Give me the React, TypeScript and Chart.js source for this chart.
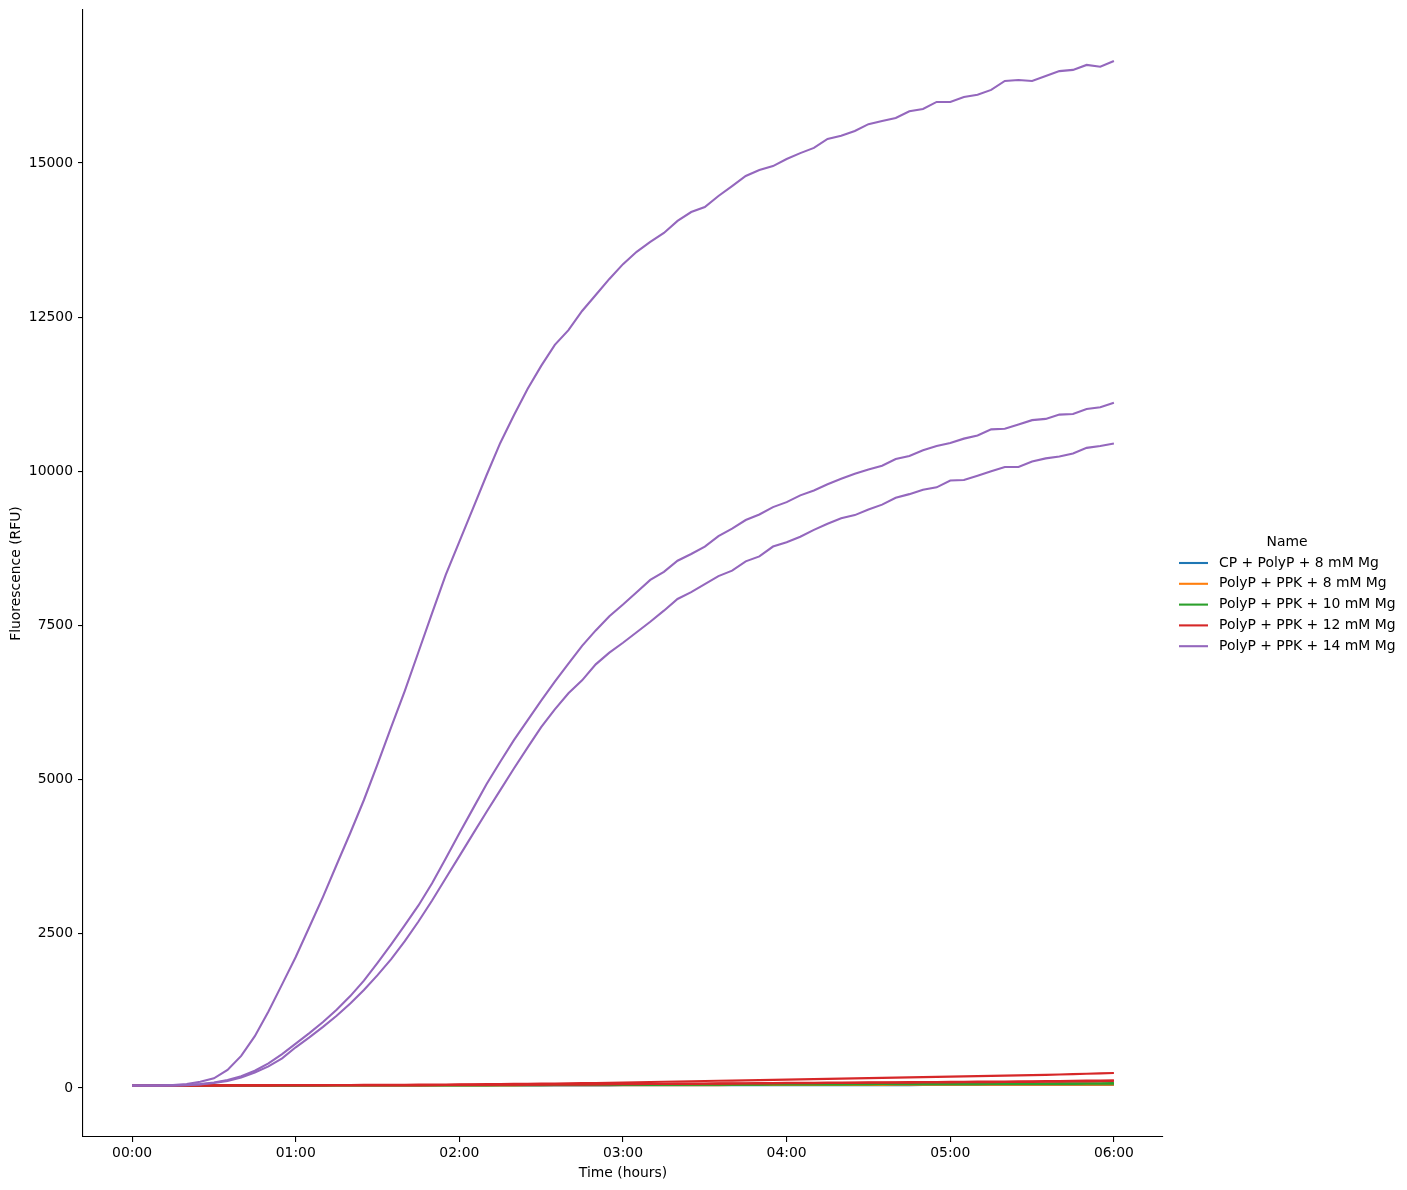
import React, { useEffect, useRef } from "react";
import { Chart, registerables } from "chart.js";

Chart.register(...registerables);

// time in minutes (every 5 minutes, 0 .. 6 h)
const timeMinutes = [
  0, 5, 10, 15, 20, 25, 30, 35, 40, 45, 50, 55, 60, 65, 70, 75, 80, 85, 90, 95,
  100, 105, 110, 115, 120, 125, 130, 135, 140, 145, 150, 155, 160, 165, 170, 175,
  180, 185, 190, 195, 200, 205, 210, 215, 220, 225, 230, 235, 240, 245, 250, 255,
  260, 265, 270, 275, 280, 285, 290, 295, 300, 305, 310, 315, 320, 325, 330, 335,
  340, 345, 350, 355, 360,
];

const xTickMinutes = [0, 60, 120, 180, 240, 300, 360];
const yTickValues = [0, 2500, 5000, 7500, 10000, 12500, 15000];

const seriesNames = [
  "CP + PolyP + 8 mM Mg",
  "PolyP + PPK + 8 mM Mg",
  "PolyP + PPK + 10 mM Mg",
  "PolyP + PPK + 12 mM Mg",
  "PolyP + PPK + 14 mM Mg",
];
const seriesColors = ["#1f77b4", "#ff7f0e", "#2ca02c", "#d62728", "#9467bd"];

// CP + PolyP + 8 mM Mg
const cpPolyP8 = [
  37, 37, 37, 37, 37, 37, 37, 38, 38, 38, 38, 38, 38, 38, 39, 39, 39, 39, 39, 40,
  40, 40, 40, 40, 40, 41, 41, 41, 41, 41, 41, 42, 42, 42, 42, 42, 43, 43, 43, 43,
  43, 44, 44, 44, 44, 45, 45, 45, 45, 46, 46, 46, 46, 46, 47, 47, 47, 47, 48, 48,
  48, 48, 49, 49, 49, 49, 49, 50, 50, 50, 50, 50, 50,
];

// PolyP + PPK + 8 mM Mg
const ppk8 = [
  38, 38, 38, 38, 38, 38, 38, 39, 39, 39, 39, 39, 39, 40, 40, 40, 40, 40, 40, 41,
  41, 41, 41, 41, 41, 42, 42, 42, 42, 43, 43, 43, 44, 44, 44, 45, 45, 45, 46, 46,
  46, 47, 47, 47, 48, 48, 48, 49, 49, 49, 50, 50, 50, 51, 51, 51, 52, 52, 52, 53,
  53, 53, 54, 54, 54, 54, 55, 55, 55, 55, 55, 55, 55,
];

// PolyP + PPK + 10 mM Mg (replicates)
const ppk10a = [
  40, 40, 40, 40, 40, 41, 41, 41, 41, 42, 42, 42, 42, 43, 43, 43, 44, 44, 44, 45,
  45, 45, 46, 46, 46, 47, 47, 48, 48, 49, 49, 50, 50, 51, 51, 52, 52, 53, 54, 54,
  55, 56, 56, 57, 58, 58, 59, 60, 60, 61, 62, 62, 63, 64, 64, 65, 66, 66, 67, 68,
  68, 69, 70, 70, 71, 72, 72, 73, 74, 75, 76, 77, 78,
];
const ppk10b = [
  40, 40, 40, 40, 40, 40, 41, 41, 41, 41, 41, 42, 42, 42, 42, 43, 43, 43, 43, 44,
  44, 44, 45, 45, 45, 46, 46, 46, 47, 47, 47, 48, 48, 49, 49, 50, 50, 51, 51, 52,
  52, 53, 53, 54, 54, 55, 55, 56, 56, 57, 57, 58, 58, 59, 59, 60, 60, 61, 61, 62,
  62, 63, 63, 64, 64, 65, 65, 66, 67, 67, 68, 69, 70,
];

// PolyP + PPK + 12 mM Mg (replicates)
const ppk12a = [
  40, 40, 40, 41, 41, 42, 42, 43, 43, 44, 44, 45, 46, 46, 47, 48, 49, 50, 51, 52,
  53, 54, 56, 57, 58, 60, 62, 64, 66, 68, 70, 72, 75, 78, 81, 84, 88, 92, 96, 100,
  104, 108, 112, 116, 120, 124, 128, 132, 136, 140, 144, 148, 152, 156, 160, 164,
  168, 172, 176, 180, 184, 188, 192, 196, 200, 204, 208, 212, 218, 224, 230, 236,
  243,
];
const ppk12b = [
  40, 40, 40, 40, 41, 41, 41, 41, 42, 42, 42, 43, 43, 43, 44, 44, 45, 45, 46, 46,
  47, 47, 48, 49, 50, 51, 52, 53, 54, 55, 56, 57, 58, 59, 61, 62, 64, 65, 67, 68,
  70, 71, 73, 74, 76, 77, 79, 80, 82, 83, 85, 86, 88, 89, 91, 92, 94, 95, 97, 98,
  100, 101, 103, 104, 106, 107, 109, 111, 113, 116, 119, 122, 125,
];
const ppk12c = [
  40, 40, 40, 40, 41, 41, 41, 41, 42, 42, 42, 43, 43, 43, 44, 44, 44, 45, 45, 46,
  46, 47, 47, 48, 49, 50, 51, 52, 53, 54, 55, 56, 57, 58, 59, 60, 61, 62, 64, 65,
  66, 67, 69, 70, 71, 72, 74, 75, 76, 77, 79, 80, 81, 82, 84, 85, 86, 87, 89, 90,
  91, 92, 94, 95, 96, 97, 99, 100, 102, 104, 107, 109, 112,
];

// PolyP + PPK + 14 mM Mg (replicates)
const ppk14a = [
  40, 40, 40, 48, 65, 102, 157, 292, 520, 840,
  1240, 1680, 2125, 2610, 3100, 3620, 4135, 4670, 5250, 5850,
  6440, 7070, 7700, 8320, 8860, 9400, 9940, 10460, 10910, 11335,
  11710, 12050, 12290, 12600, 12860, 13120, 13360, 13560, 13720, 13865,
  14060, 14205, 14285, 14465, 14625, 14790, 14885, 14950, 15065, 15160,
  15245, 15390, 15440, 15520, 15630, 15680, 15730, 15840, 15875, 15990,
  15990, 16070, 16105, 16185, 16330, 16345, 16330, 16410, 16490, 16510,
  16590, 16560, 16655,
];
const ppk14b = [
  40, 40, 40, 42, 48, 62, 90, 130, 190, 280,
  400, 550, 720, 890, 1070, 1270, 1490, 1740, 2030, 2330,
  2640, 2960, 3320, 3720, 4130, 4530, 4930, 5290, 5640, 5960,
  6280, 6590, 6880, 7170, 7420, 7650, 7840, 8040, 8240, 8370,
  8550, 8660, 8780, 8950, 9070, 9210, 9300, 9420, 9500, 9610,
  9690, 9790, 9880, 9960, 10030, 10090, 10200, 10250, 10340, 10410,
  10460, 10530, 10580, 10680, 10690, 10760, 10830, 10850, 10920, 10930,
  11010, 11040, 11110,
];
const ppk14c = [
  40, 40, 40, 42, 47, 58, 80, 115, 170, 250,
  350, 480, 660, 820, 990, 1170, 1370, 1590, 1830, 2090,
  2380, 2700, 3040, 3400, 3760, 4120, 4480, 4830, 5180, 5520,
  5850, 6140, 6400, 6610, 6870, 7060, 7220, 7390, 7560, 7740,
  7930, 8040, 8170, 8300, 8390, 8540, 8620, 8780, 8850, 8940,
  9050, 9150, 9240, 9290, 9380, 9460, 9570, 9630, 9700, 9740,
  9850, 9860, 9930, 10000, 10070, 10070, 10160, 10210, 10240, 10290,
  10380, 10410, 10450,
];

// each replicate line: [group index, values]
const replicateLines: [number, number[]][] = [
  [0, cpPolyP8],
  [1, ppk8],
  [2, ppk10a],
  [2, ppk10b],
  [3, ppk12a],
  [3, ppk12b],
  [3, ppk12c],
  [4, ppk14a],
  [4, ppk14b],
  [4, ppk14c],
];

const FONT = '"DejaVu Sans", "Liberation Sans", sans-serif';
const FS = 13.9;

function fmtTime(min: number): string {
  const h = Math.floor(min / 60);
  const m = Math.round(min - h * 60);
  return `${String(h).padStart(2, "0")}:${String(m).padStart(2, "0")}`;
}

const legendPlugin = {
  id: "mplLegend",
  afterDraw(chart: any) {
    const { ctx, chartArea } = chart;
    const rowH = 20.8;
    const x0 = chartArea.right + 16;
    const handleLen = 29;
    const textX = x0 + handleLen + 11;
    const firstY = 563;
    ctx.save();
    ctx.font = `${FS}px ${FONT}`;
    ctx.fillStyle = "#000";
    ctx.textBaseline = "middle";
    ctx.textAlign = "center";
    ctx.fillText("Name", 1287, firstY - rowH);
    seriesNames.forEach((name, i) => {
      const y = firstY + i * rowH;
      ctx.strokeStyle = seriesColors[i];
      ctx.lineWidth = 2.1;
      ctx.beginPath();
      ctx.moveTo(x0, y);
      ctx.lineTo(x0 + handleLen, y);
      ctx.stroke();
      ctx.textAlign = "left";
      ctx.fillStyle = "#000";
      ctx.fillText(name, textX, y);
    });
    ctx.restore();
  },
};

export default function App() {
  const canvasRef = useRef<HTMLCanvasElement | null>(null);

  useEffect(() => {
    if (!canvasRef.current) return;
    Chart.defaults.font.family = FONT;
    Chart.defaults.font.size = FS;
    Chart.defaults.color = "#000";

    // purple first so it is drawn on top (Chart.js draws index 0 last)
    const ordered = [...replicateLines].reverse();
    const datasets = ordered.map(([g, vals]) => ({
      label: seriesNames[g],
      data: vals.map((v, i) => ({ x: timeMinutes[i], y: v })),
      borderColor: seriesColors[g],
      backgroundColor: seriesColors[g],
      borderWidth: 2.1,
      pointRadius: 0,
      pointHoverRadius: 0,
      tension: 0,
      fill: false,
    }));

    const chart = new Chart(canvasRef.current, {
      type: "line",
      data: { datasets },
      plugins: [legendPlugin],
      options: {
        responsive: false,
        animation: false,
        devicePixelRatio: 1,
        layout: { padding: { top: 10, right: 244, bottom: 0, left: 0 } },
        plugins: {
          legend: { display: false },
          tooltip: { enabled: false },
          title: { display: false },
        },
        scales: {
          x: {
            type: "linear",
            min: -18,
            max: 378,
            afterFit: (s: any) => {
              s.height = 53;
              s.paddingLeft = 0;
              s.paddingRight = 0;
            },
            afterBuildTicks: (s: any) => {
              s.ticks = xTickMinutes.map((v) => ({ value: v }));
            },
            ticks: {
              callback: (v: any) => fmtTime(Number(v)),
              padding: 3,
              maxRotation: 0,
              autoSkip: false,
              color: "#000",
              font: { size: FS, family: FONT },
            },
            grid: {
              display: true,
              drawOnChartArea: false,
              drawTicks: true,
              tickLength: 5,
              color: "#000",
              lineWidth: 1.1,
            },
            border: { display: true, color: "#000", width: 1.1 },
            title: {
              display: true,
              text: "Time (hours)",
              color: "#000",
              font: { size: FS, family: FONT },
              padding: { top: 0, bottom: 8 },
            },
          },
          y: {
            type: "linear",
            min: -795,
            max: 17481,
            afterFit: (s: any) => {
              s.width = 83;
              s.paddingTop = 0;
              s.paddingBottom = 0;
            },
            afterBuildTicks: (s: any) => {
              s.ticks = yTickValues.map((v) => ({ value: v }));
            },
            ticks: {
              callback: (v: any) => String(v),
              padding: 5,
              autoSkip: false,
              color: "#000",
              font: { size: FS, family: FONT },
            },
            grid: {
              display: true,
              drawOnChartArea: false,
              drawTicks: true,
              tickLength: 5,
              color: "#000",
              lineWidth: 1.1,
            },
            border: { display: true, color: "#000", width: 1.1 },
            title: {
              display: true,
              text: "Fluorescence (RFU)",
              color: "#000",
              font: { size: FS, family: FONT },
              padding: { top: 8, bottom: 0 },
            },
          },
        },
      },
    } as any);

    return () => {
      chart.destroy();
    };
  }, []);

  return (
    <div
      style={{
        position: "absolute",
        left: 0,
        top: 0,
        width: 1407,
        height: 1190,
        background: "#fff",
      }}
    >
      <canvas ref={canvasRef} width={1407} height={1190} style={{ width: 1407, height: 1190 }} />
    </div>
  );
}
